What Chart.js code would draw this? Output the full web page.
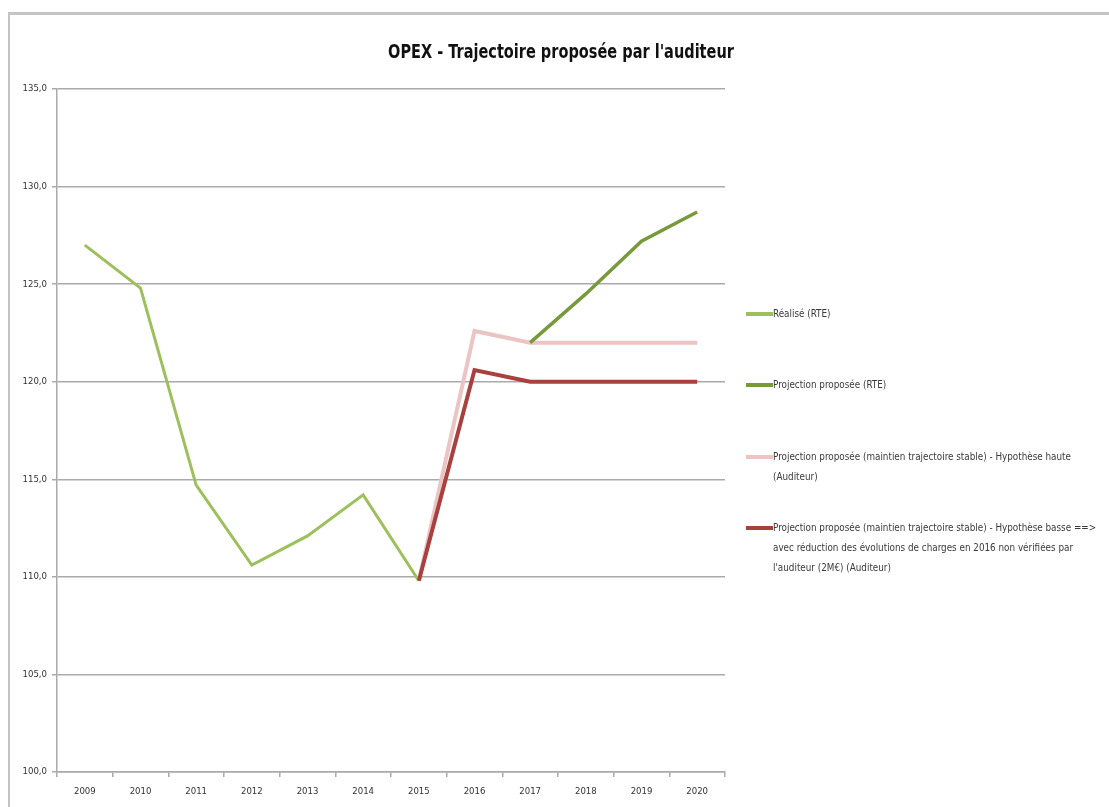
<!DOCTYPE html>
<html>
<head>
<meta charset="utf-8">
<script src="https://cdn.jsdelivr.net/npm/chart.js"></script>
<style>
  body { margin: 0; background: #fff; }
  #wrap { position: relative; width: 1109px; height: 807px; overflow: hidden; }
  #frame { position: absolute; left: 8px; top: 12px; right: -4px; bottom: -4px;
           border-top: 3px solid #c4c4c4; border-left: 2px solid #c4c4c4; }
  #title { position: absolute; top: 40px; left: 561px; transform: translateX(-50%) scaleX(0.85);
           white-space: nowrap; font: bold 19px "DejaVu Sans Condensed", "Liberation Sans", sans-serif; color: #111; }
  .leg { position: absolute; left: 773px; font: 9.8px/20px "DejaVu Sans Condensed", "Liberation Sans", sans-serif;
         color: #3a3a3a; white-space: pre; }
  .leg i { position: absolute; left: -27px; top: 8px; width: 27px; height: 4px; }
</style>
</head>
<body>
<div id="wrap">
  <div id="frame"></div>
  <canvas id="chart" width="1109" height="807"></canvas>
  <div id="title">OPEX - Trajectoire proposée par l'auditeur</div>
  <div id="legend"></div>
</div>
<script>
const years = ['2009','2010','2011','2012','2013','2014','2015','2016','2017','2018','2019','2020'];
const realise     = [127.0, 124.8, 114.7, 110.6, 112.1, 114.2, 109.8, null, null, null, null, null];
const projRTE     = [null, null, null, null, null, null, null, null, 122.0, 124.5, 127.2, 128.7];
const hypHaute    = [null, null, null, null, null, null, 109.8, 122.6, 122.0, 122.0, 122.0, 122.0];
const hypBasse    = [null, null, null, null, null, null, 109.8, 120.6, 120.0, 120.0, 120.0, 120.0];
const yTicks = [100, 105, 110, 115, 120, 125, 130, 135];

const labels = [
  'Réalisé (RTE)',
  'Projection proposée (RTE)',
  'Projection proposée (maintien trajectoire stable) - Hypothèse haute\n(Auditeur)',
  'Projection proposée (maintien trajectoire stable) - Hypothèse basse ==>\navec réduction des évolutions de charges en 2016 non vérifiées par\nl\'auditeur (2M€) (Auditeur)'
];
const colors = ['#9dc05c', '#789a3c', '#ecc4c3', '#a9403d'];
const legendTops = [304, 375, 447, 518];

const tickFont = { family: '"DejaVu Sans Condensed", "Liberation Sans", sans-serif', size: 9.5 };

const ctx = document.getElementById('chart');
new Chart(ctx, {
  type: 'line',
  data: {
    labels: years,
    datasets: [
      { label: labels[0], data: realise, borderColor: colors[0], borderWidth: 3, order: 3 },
      { label: labels[1], data: projRTE, borderColor: colors[1], borderWidth: 3.5, order: 1 },
      { label: labels[2], data: hypHaute, borderColor: colors[2], borderWidth: 4, order: 2 },
      { label: labels[3], data: hypBasse, borderColor: colors[3], borderWidth: 4, order: 0 }
    ]
  },
  options: {
    responsive: false,
    animation: false,
    spanGaps: false,
    elements: { point: { radius: 0 }, line: { tension: 0, borderCapStyle: 'butt', borderJoinStyle: 'miter' } },
    layout: { padding: { left: 0, right: 384, top: 89, bottom: 0 } },
    plugins: { legend: { display: false }, title: { display: false }, tooltip: { enabled: false } },
    scales: {
      x: {
        offset: true,
        grid: { offset: true, drawOnChartArea: false, drawTicks: true, tickLength: 5, color: '#aaaaaa', lineWidth: 1.5 },
        border: { color: '#aaaaaa', width: 1.5 },
        ticks: { font: tickFont, color: '#333333', padding: 9, maxRotation: 0 },
        afterFit: function(s) { s.height = 35; }
      },
      y: {
        min: 100,
        max: 135,
        afterBuildTicks: function(s) { s.ticks = yTicks.map(v => ({ value: v })); },
        grid: { color: '#aaaaaa', lineWidth: 1.5, tickLength: 5 },
        border: { color: '#aaaaaa', width: 1.5 },
        ticks: { font: tickFont, color: '#333333', padding: 5,
                 callback: v => v.toFixed(1).replace('.', ',') },
        afterFit: function(s) { s.width = 57; }
      }
    }
  }
});

const legend = document.getElementById('legend');
labels.forEach(function(t, i) {
  const d = document.createElement('div');
  d.className = 'leg';
  d.style.top = legendTops[i] + 'px';
  const sw = document.createElement('i');
  sw.style.background = colors[i];
  d.appendChild(sw);
  d.appendChild(document.createTextNode(t));
  legend.appendChild(d);
});
</script>
</body>
</html>
